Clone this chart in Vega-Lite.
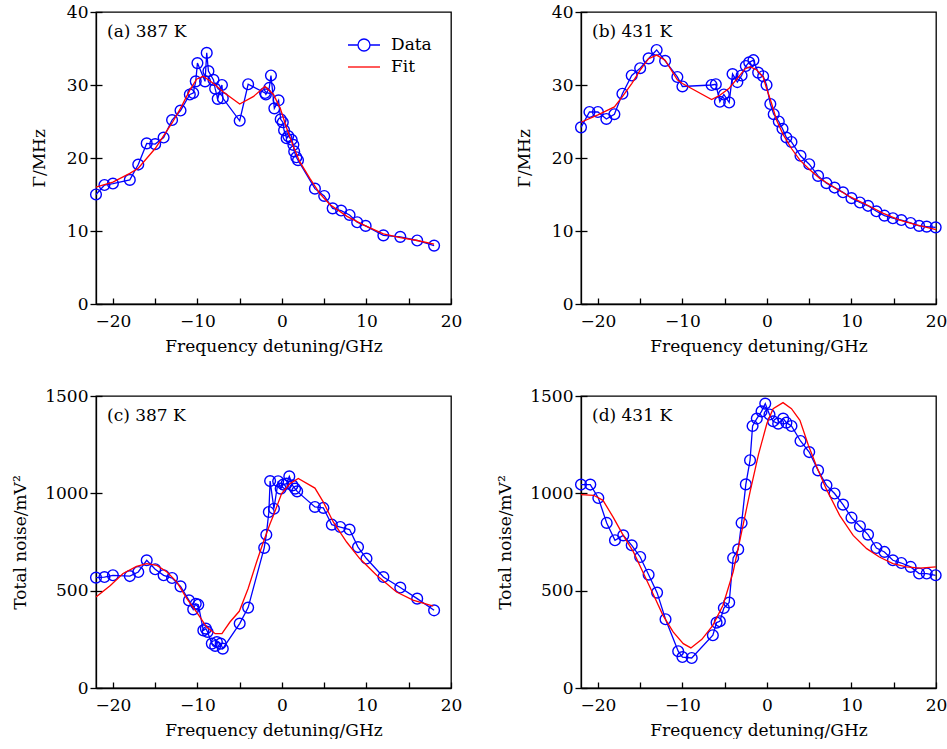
{
  "$schema": "https://vega.github.io/schema/vega-lite/v6.json",
  "background": "white",
  "padding": {"left": 11, "top": 2, "right": 0, "bottom": 0},
  "columns": 2,
  "spacing": {"row": 92, "column": 130},
  "bounds": "flush",
  "datasets": {
    "a": [
      {"series":"Data","x":-22,"y":15.0},{"series":"Data","x":-21,"y":16.3},{"series":"Data","x":-20,"y":16.5},{"series":"Data","x":-18,"y":17.0},{"series":"Data","x":-17,"y":19.1},{"series":"Data","x":-16,"y":22.0},{"series":"Data","x":-15,"y":21.9},{"series":"Data","x":-14,"y":22.8},{"series":"Data","x":-13,"y":25.2},{"series":"Data","x":-12,"y":26.5},{"series":"Data","x":-10.9,"y":28.7},{"series":"Data","x":-10.5,"y":28.9},{"series":"Data","x":-10.2,"y":30.5},{"series":"Data","x":-10.0,"y":33.0},{"series":"Data","x":-9.1,"y":30.5},{"series":"Data","x":-8.9,"y":34.4},{"series":"Data","x":-8.7,"y":31.9},{"series":"Data","x":-8.1,"y":30.7},{"series":"Data","x":-7.9,"y":29.5},{"series":"Data","x":-7.6,"y":28.1},{"series":"Data","x":-7.1,"y":30.0},{"series":"Data","x":-7.0,"y":28.2},{"series":"Data","x":-5.0,"y":25.1},{"series":"Data","x":-4.0,"y":30.1},{"series":"Data","x":-2.0,"y":28.9},{"series":"Data","x":-1.9,"y":28.7},{"series":"Data","x":-1.5,"y":29.6},{"series":"Data","x":-1.3,"y":31.3},{"series":"Data","x":-0.9,"y":26.8},{"series":"Data","x":-0.4,"y":27.9},{"series":"Data","x":-0.15,"y":25.3},{"series":"Data","x":0.1,"y":24.9},{"series":"Data","x":0.25,"y":23.8},{"series":"Data","x":0.55,"y":22.7},{"series":"Data","x":0.75,"y":23.0},{"series":"Data","x":1.15,"y":22.5},{"series":"Data","x":1.35,"y":21.8},{"series":"Data","x":1.45,"y":20.9},{"series":"Data","x":1.7,"y":20.1},{"series":"Data","x":1.9,"y":19.7},{"series":"Data","x":3.9,"y":15.8},{"series":"Data","x":5.0,"y":14.8},{"series":"Data","x":6.0,"y":13.1},{"series":"Data","x":7.0,"y":12.8},{"series":"Data","x":8.0,"y":12.2},{"series":"Data","x":8.9,"y":11.2},{"series":"Data","x":9.9,"y":10.7},{"series":"Data","x":12.0,"y":9.4},{"series":"Data","x":14.0,"y":9.2},{"series":"Data","x":16.0,"y":8.7},{"series":"Data","x":18.0,"y":8.0},
      {"series":"Fit","x":-22,"y":16.0},{"series":"Fit","x":-20,"y":16.7},{"series":"Fit","x":-18,"y":17.9},{"series":"Fit","x":-17,"y":18.6},{"series":"Fit","x":-15,"y":21.3},{"series":"Fit","x":-13,"y":24.8},{"series":"Fit","x":-12,"y":26.8},{"series":"Fit","x":-10.9,"y":29.3},{"series":"Fit","x":-10.1,"y":30.8},{"series":"Fit","x":-9.3,"y":31.2},{"series":"Fit","x":-8.1,"y":30.2},{"series":"Fit","x":-6.9,"y":29.0},{"series":"Fit","x":-5.0,"y":27.4},{"series":"Fit","x":-3.4,"y":28.4},{"series":"Fit","x":-2.0,"y":29.8},{"series":"Fit","x":-1.0,"y":28.7},{"series":"Fit","x":-0.2,"y":26.8},{"series":"Fit","x":0.55,"y":24.1},{"series":"Fit","x":1.34,"y":21.6},{"series":"Fit","x":2.1,"y":19.5},{"series":"Fit","x":3.3,"y":17.2},{"series":"Fit","x":4.5,"y":15.1},{"series":"Fit","x":5.7,"y":13.6},{"series":"Fit","x":7.7,"y":12.0},{"series":"Fit","x":9.7,"y":10.8},{"series":"Fit","x":12.0,"y":9.6},{"series":"Fit","x":14.0,"y":9.1},{"series":"Fit","x":16.0,"y":8.7},{"series":"Fit","x":18.0,"y":8.2}
    ],
    "b": [
      {"series":"Data","x":-22,"y":24.2},{"series":"Data","x":-21,"y":26.3},{"series":"Data","x":-20,"y":26.3},{"series":"Data","x":-19,"y":25.35},{"series":"Data","x":-18.05,"y":26.0},{"series":"Data","x":-17.1,"y":28.8},{"series":"Data","x":-16,"y":31.3},{"series":"Data","x":-15,"y":32.3},{"series":"Data","x":-14,"y":33.65},{"series":"Data","x":-13.05,"y":34.8},{"series":"Data","x":-12.05,"y":33.3},{"series":"Data","x":-10.6,"y":31.1},{"series":"Data","x":-10,"y":29.8},{"series":"Data","x":-6.55,"y":30.0},{"series":"Data","x":-6.05,"y":30.1},{"series":"Data","x":-5.57,"y":27.7},{"series":"Data","x":-5.1,"y":28.7},{"series":"Data","x":-4.47,"y":27.6},{"series":"Data","x":-4.07,"y":31.5},{"series":"Data","x":-3.5,"y":30.4},{"series":"Data","x":-3.0,"y":31.3},{"series":"Data","x":-2.5,"y":32.6},{"series":"Data","x":-2.1,"y":33.1},{"series":"Data","x":-1.6,"y":33.4},{"series":"Data","x":-1.04,"y":31.7},{"series":"Data","x":-0.45,"y":31.2},{"series":"Data","x":-0.05,"y":30.0},{"series":"Data","x":0.4,"y":27.4},{"series":"Data","x":0.8,"y":26.0},{"series":"Data","x":1.4,"y":25.0},{"series":"Data","x":1.84,"y":24.0},{"series":"Data","x":2.3,"y":22.8},{"series":"Data","x":2.9,"y":22.2},{"series":"Data","x":3.97,"y":20.3},{"series":"Data","x":5.0,"y":19.15},{"series":"Data","x":6.05,"y":17.55},{"series":"Data","x":7.04,"y":16.55},{"series":"Data","x":8.0,"y":15.95},{"series":"Data","x":9.0,"y":15.3},{"series":"Data","x":10.0,"y":14.5},{"series":"Data","x":11.0,"y":13.9},{"series":"Data","x":11.96,"y":13.45},{"series":"Data","x":12.95,"y":12.7},{"series":"Data","x":13.9,"y":12.1},{"series":"Data","x":14.9,"y":11.75},{"series":"Data","x":15.9,"y":11.5},{"series":"Data","x":17.0,"y":11.1},{"series":"Data","x":18.0,"y":10.7},{"series":"Data","x":18.9,"y":10.6},{"series":"Data","x":19.96,"y":10.5},
      {"series":"Fit","x":-22,"y":24.9},{"series":"Fit","x":-20,"y":25.9},{"series":"Fit","x":-18.05,"y":27.0},{"series":"Fit","x":-17.1,"y":28.4},{"series":"Fit","x":-16,"y":30.2},{"series":"Fit","x":-15,"y":32.05},{"series":"Fit","x":-14,"y":33.6},{"series":"Fit","x":-13.05,"y":34.1},{"series":"Fit","x":-12.05,"y":33.4},{"series":"Fit","x":-10.6,"y":30.7},{"series":"Fit","x":-10,"y":30.2},{"series":"Fit","x":-6.55,"y":28.0},{"series":"Fit","x":-5.57,"y":28.6},{"series":"Fit","x":-4.47,"y":29.55},{"series":"Fit","x":-3.5,"y":30.9},{"series":"Fit","x":-2.6,"y":32.2},{"series":"Fit","x":-2.0,"y":32.5},{"series":"Fit","x":-1.2,"y":32.05},{"series":"Fit","x":-0.45,"y":31.1},{"series":"Fit","x":-0.05,"y":29.55},{"series":"Fit","x":0.54,"y":27.5},{"series":"Fit","x":1.13,"y":25.2},{"series":"Fit","x":1.92,"y":23.2},{"series":"Fit","x":2.9,"y":21.3},{"series":"Fit","x":3.9,"y":19.7},{"series":"Fit","x":5.07,"y":18.4},{"series":"Fit","x":6.25,"y":17.2},{"series":"Fit","x":7.8,"y":16.1},{"series":"Fit","x":9.8,"y":14.7},{"series":"Fit","x":11.8,"y":13.6},{"series":"Fit","x":13.7,"y":12.45},{"series":"Fit","x":15.7,"y":11.5},{"series":"Fit","x":17.7,"y":10.85},{"series":"Fit","x":20,"y":10.2}
    ],
    "c": [
      {"series":"Data","x":-22,"y":567},{"series":"Data","x":-21,"y":570},{"series":"Data","x":-20,"y":579},{"series":"Data","x":-18,"y":575},{"series":"Data","x":-17,"y":596},{"series":"Data","x":-16,"y":656},{"series":"Data","x":-15,"y":610},{"series":"Data","x":-14,"y":579},{"series":"Data","x":-13,"y":565},{"series":"Data","x":-12,"y":522},{"series":"Data","x":-11,"y":450},{"series":"Data","x":-10.5,"y":404},{"series":"Data","x":-10.2,"y":433},{"series":"Data","x":-9.9,"y":428},{"series":"Data","x":-9.3,"y":296},{"series":"Data","x":-9.0,"y":305},{"series":"Data","x":-8.8,"y":288},{"series":"Data","x":-8.3,"y":228},{"series":"Data","x":-7.9,"y":216},{"series":"Data","x":-7.7,"y":236},{"series":"Data","x":-7.25,"y":228},{"series":"Data","x":-7.0,"y":202},{"series":"Data","x":-5.0,"y":331},{"series":"Data","x":-4.0,"y":413},{"series":"Data","x":-2.1,"y":720},{"series":"Data","x":-1.85,"y":787},{"series":"Data","x":-1.55,"y":904},{"series":"Data","x":-1.4,"y":1063},{"series":"Data","x":-0.95,"y":921},{"series":"Data","x":-0.45,"y":1062},{"series":"Data","x":-0.15,"y":1024},{"series":"Data","x":0.15,"y":1045},{"series":"Data","x":0.55,"y":1050},{"series":"Data","x":0.87,"y":1087},{"series":"Data","x":1.25,"y":1041},{"series":"Data","x":1.55,"y":1024},{"series":"Data","x":1.8,"y":1010},{"series":"Data","x":3.9,"y":930},{"series":"Data","x":4.9,"y":925},{"series":"Data","x":5.9,"y":839},{"series":"Data","x":6.9,"y":827},{"series":"Data","x":8.0,"y":814},{"series":"Data","x":9.0,"y":724},{"series":"Data","x":10.0,"y":665},{"series":"Data","x":12.0,"y":570},{"series":"Data","x":14.0,"y":516},{"series":"Data","x":16.0,"y":459},{"series":"Data","x":18.0,"y":399},
      {"series":"Fit","x":-22,"y":467},{"series":"Fit","x":-20.3,"y":527},{"series":"Fit","x":-18.8,"y":588},{"series":"Fit","x":-17.2,"y":625},{"series":"Fit","x":-16.0,"y":639},{"series":"Fit","x":-14.8,"y":630},{"series":"Fit","x":-13.6,"y":596},{"series":"Fit","x":-12.45,"y":545},{"series":"Fit","x":-11.25,"y":459},{"series":"Fit","x":-10.1,"y":390},{"series":"Fit","x":-8.9,"y":313},{"series":"Fit","x":-7.9,"y":279},{"series":"Fit","x":-7.1,"y":279},{"series":"Fit","x":-6.15,"y":339},{"series":"Fit","x":-5.05,"y":394},{"series":"Fit","x":-4.0,"y":511},{"series":"Fit","x":-3.0,"y":647},{"series":"Fit","x":-2.2,"y":750},{"series":"Fit","x":-1.4,"y":845},{"series":"Fit","x":-1.0,"y":887},{"series":"Fit","x":-0.04,"y":999},{"series":"Fit","x":0.95,"y":1050},{"series":"Fit","x":1.93,"y":1076},{"series":"Fit","x":3.9,"y":1027},{"series":"Fit","x":4.9,"y":955},{"series":"Fit","x":6.07,"y":853},{"series":"Fit","x":7.65,"y":750},{"series":"Fit","x":9.2,"y":665},{"series":"Fit","x":11.2,"y":579},{"series":"Fit","x":13.56,"y":493},{"series":"Fit","x":15.5,"y":451},{"series":"Fit","x":17.9,"y":421}
    ],
    "d": [
      {"series":"Data","x":-22,"y":1045},{"series":"Data","x":-20.9,"y":1045},{"series":"Data","x":-19.95,"y":976},{"series":"Data","x":-18.96,"y":848},{"series":"Data","x":-17.98,"y":759},{"series":"Data","x":-17.0,"y":784},{"series":"Data","x":-16.0,"y":733},{"series":"Data","x":-15.0,"y":673},{"series":"Data","x":-14.0,"y":582},{"series":"Data","x":-13.0,"y":490},{"series":"Data","x":-12.0,"y":353},{"series":"Data","x":-10.5,"y":189},{"series":"Data","x":-10.0,"y":159},{"series":"Data","x":-8.9,"y":154},{"series":"Data","x":-6.4,"y":271},{"series":"Data","x":-5.96,"y":336},{"series":"Data","x":-5.57,"y":343},{"series":"Data","x":-5.1,"y":411},{"series":"Data","x":-4.47,"y":439},{"series":"Data","x":-4.0,"y":668},{"series":"Data","x":-3.4,"y":712},{"series":"Data","x":-3.0,"y":848},{"series":"Data","x":-2.5,"y":1046},{"series":"Data","x":-2.0,"y":1170},{"series":"Data","x":-1.7,"y":1346},{"series":"Data","x":-1.2,"y":1384},{"series":"Data","x":-0.64,"y":1421},{"series":"Data","x":-0.2,"y":1461},{"series":"Data","x":0.3,"y":1405},{"series":"Data","x":0.73,"y":1370},{"series":"Data","x":1.33,"y":1358},{"series":"Data","x":1.92,"y":1384},{"series":"Data","x":2.3,"y":1363},{"series":"Data","x":2.9,"y":1346},{"series":"Data","x":3.97,"y":1269},{"series":"Data","x":5.0,"y":1212},{"series":"Data","x":6.05,"y":1118},{"series":"Data","x":7.04,"y":1041},{"series":"Data","x":8.0,"y":999},{"series":"Data","x":9.0,"y":942},{"series":"Data","x":10.0,"y":875},{"series":"Data","x":11.0,"y":831},{"series":"Data","x":11.96,"y":788},{"series":"Data","x":12.95,"y":719},{"series":"Data","x":13.9,"y":699},{"series":"Data","x":14.9,"y":656},{"series":"Data","x":15.9,"y":642},{"series":"Data","x":17.0,"y":622},{"series":"Data","x":18.0,"y":588},{"series":"Data","x":18.9,"y":588},{"series":"Data","x":19.96,"y":579},
      {"series":"Fit","x":-22,"y":993},{"series":"Fit","x":-20.5,"y":990},{"series":"Fit","x":-19.4,"y":964},{"series":"Fit","x":-18.2,"y":878},{"series":"Fit","x":-17.0,"y":784},{"series":"Fit","x":-15.8,"y":699},{"series":"Fit","x":-14.6,"y":588},{"series":"Fit","x":-13.4,"y":476},{"series":"Fit","x":-12.3,"y":373},{"series":"Fit","x":-11.1,"y":288},{"series":"Fit","x":-9.9,"y":228},{"series":"Fit","x":-9.0,"y":206},{"series":"Fit","x":-7.7,"y":250},{"series":"Fit","x":-6.4,"y":322},{"series":"Fit","x":-5.2,"y":425},{"series":"Fit","x":-4.0,"y":596},{"series":"Fit","x":-3.0,"y":801},{"series":"Fit","x":-2.0,"y":1007},{"series":"Fit","x":-1.0,"y":1200},{"series":"Fit","x":0.0,"y":1360},{"series":"Fit","x":0.73,"y":1435},{"series":"Fit","x":1.9,"y":1466},{"series":"Fit","x":2.9,"y":1435},{"series":"Fit","x":3.9,"y":1375},{"series":"Fit","x":4.9,"y":1247},{"series":"Fit","x":5.9,"y":1135},{"series":"Fit","x":7.0,"y":1024},{"series":"Fit","x":8.6,"y":887},{"series":"Fit","x":10.2,"y":784},{"series":"Fit","x":11.8,"y":716},{"series":"Fit","x":13.3,"y":673},{"series":"Fit","x":14.9,"y":639},{"series":"Fit","x":16.5,"y":622},{"series":"Fit","x":18.1,"y":616},{"series":"Fit","x":20,"y":622}
    ]
  },
  "concat": [
    {
      "width": 355, "height": 292,
      "data": {"name": "a"},
      "title": {"text": "(a) 387 K"},
      "encoding": {
        "x": {"field": "x", "type": "quantitative", "scale": {"domain": [-22, 20], "nice": false, "zero": false}, "axis": {"values": [-20, -15, -10, -5, 0, 5, 10, 15, 20], "labelExpr": "datum.value % 10 === 0 ? datum.label : ''", "title": "Frequency detuning/GHz"}},
        "y": {"field": "y", "type": "quantitative", "scale": {"domain": [0, 40], "nice": false, "zero": false}, "axis": {"values": [0, 10, 20, 30, 40], "format": "d", "title": "Γ/MHz", "titlePadding": 18}}
      },
      "layer": [
        {"transform": [{"filter": "datum.series === 'Data'"}], "mark": {"type": "line", "color": "#0000ff", "strokeWidth": 1.3}},
        {"transform": [{"filter": "datum.series === 'Data'"}], "mark": {"type": "point", "shape": "circle", "filled": false, "color": "#0000ff", "size": 115, "strokeWidth": 1.4, "opacity": 1}},
        {"transform": [{"filter": "datum.series === 'Fit'"}], "mark": {"type": "line", "color": "#ff0000", "strokeWidth": 1.3}},
        {"mark": {"type": "point", "filled": false, "opacity": 0},
         "encoding": {
           "color": {"field": "series", "type": "nominal", "scale": {"domain": ["Data", "Fit"], "range": ["#0000ff", "#ff0000"]}, "legend": {"title": null, "orient": "none", "legendX": 257, "legendY": 22}},
           "shape": {"field": "series", "type": "nominal", "scale": {"domain": ["Data", "Fit"], "range": ["M-1.6,0H-0.6M0.6,0H1.6M0.6,0A0.6,0.6,0,1,1,-0.6,0A0.6,0.6,0,1,1,0.6,0", "M-1.6,0H1.6"]}, "legend": {"title": null, "orient": "none", "legendX": 257, "legendY": 22}}
         }}
      ]
    },
    {
      "width": 355, "height": 292,
      "data": {"name": "b"},
      "title": {"text": "(b) 431 K"},
      "encoding": {
        "x": {"field": "x", "type": "quantitative", "scale": {"domain": [-22, 20], "nice": false, "zero": false}, "axis": {"values": [-20, -15, -10, -5, 0, 5, 10, 15, 20], "labelExpr": "datum.value % 10 === 0 ? datum.label : ''", "title": "Frequency detuning/GHz"}},
        "y": {"field": "y", "type": "quantitative", "scale": {"domain": [0, 40], "nice": false, "zero": false}, "axis": {"values": [0, 10, 20, 30, 40], "format": "d", "title": "Γ/MHz", "titlePadding": 18}}
      },
      "layer": [
        {"transform": [{"filter": "datum.series === 'Data'"}], "mark": {"type": "line", "color": "#0000ff", "strokeWidth": 1.3}},
        {"transform": [{"filter": "datum.series === 'Data'"}], "mark": {"type": "point", "shape": "circle", "filled": false, "color": "#0000ff", "size": 115, "strokeWidth": 1.4, "opacity": 1}},
        {"transform": [{"filter": "datum.series === 'Fit'"}], "mark": {"type": "line", "color": "#ff0000", "strokeWidth": 1.3}},
        {"mark": {"type": "point", "filled": false, "opacity": 0},
         "encoding": {
           "color": {"field": "series", "type": "nominal", "scale": {"domain": ["Data", "Fit"], "range": ["#0000ff", "#ff0000"]}, "legend": {"title": null, "orient": "none", "legendX": 257, "legendY": 22}},
           "shape": {"field": "series", "type": "nominal", "scale": {"domain": ["Data", "Fit"], "range": ["M-1.6,0H-0.6M0.6,0H1.6M0.6,0A0.6,0.6,0,1,1,-0.6,0A0.6,0.6,0,1,1,0.6,0", "M-1.6,0H1.6"]}, "legend": {"title": null, "orient": "none", "legendX": 257, "legendY": 22}}
         }}
      ]
    },
    {
      "width": 355, "height": 292,
      "data": {"name": "c"},
      "title": {"text": "(c) 387 K"},
      "encoding": {
        "x": {"field": "x", "type": "quantitative", "scale": {"domain": [-22, 20], "nice": false, "zero": false}, "axis": {"values": [-20, -15, -10, -5, 0, 5, 10, 15, 20], "labelExpr": "datum.value % 10 === 0 ? datum.label : ''", "title": "Frequency detuning/GHz"}},
        "y": {"field": "y", "type": "quantitative", "scale": {"domain": [0, 1500], "nice": false, "zero": false}, "axis": {"values": [0, 500, 1000, 1500], "format": "d", "title": "Total noise/mV²", "titlePadding": 15}}
      },
      "layer": [
        {"transform": [{"filter": "datum.series === 'Data'"}], "mark": {"type": "line", "color": "#0000ff", "strokeWidth": 1.3}},
        {"transform": [{"filter": "datum.series === 'Data'"}], "mark": {"type": "point", "shape": "circle", "filled": false, "color": "#0000ff", "size": 115, "strokeWidth": 1.4, "opacity": 1}},
        {"transform": [{"filter": "datum.series === 'Fit'"}], "mark": {"type": "line", "color": "#ff0000", "strokeWidth": 1.3}},
        {"mark": {"type": "point", "filled": false, "opacity": 0},
         "encoding": {
           "color": {"field": "series", "type": "nominal", "scale": {"domain": ["Data", "Fit"], "range": ["#0000ff", "#ff0000"]}, "legend": {"title": null, "orient": "none", "legendX": 257, "legendY": 22}},
           "shape": {"field": "series", "type": "nominal", "scale": {"domain": ["Data", "Fit"], "range": ["M-1.6,0H-0.6M0.6,0H1.6M0.6,0A0.6,0.6,0,1,1,-0.6,0A0.6,0.6,0,1,1,0.6,0", "M-1.6,0H1.6"]}, "legend": {"title": null, "orient": "none", "legendX": 257, "legendY": 22}}
         }}
      ]
    },
    {
      "width": 355, "height": 292,
      "data": {"name": "d"},
      "title": {"text": "(d) 431 K"},
      "encoding": {
        "x": {"field": "x", "type": "quantitative", "scale": {"domain": [-22, 20], "nice": false, "zero": false}, "axis": {"values": [-20, -15, -10, -5, 0, 5, 10, 15, 20], "labelExpr": "datum.value % 10 === 0 ? datum.label : ''", "title": "Frequency detuning/GHz"}},
        "y": {"field": "y", "type": "quantitative", "scale": {"domain": [0, 1500], "nice": false, "zero": false}, "axis": {"values": [0, 500, 1000, 1500], "format": "d", "title": "Total noise/mV²", "titlePadding": 15}}
      },
      "layer": [
        {"transform": [{"filter": "datum.series === 'Data'"}], "mark": {"type": "line", "color": "#0000ff", "strokeWidth": 1.3}},
        {"transform": [{"filter": "datum.series === 'Data'"}], "mark": {"type": "point", "shape": "circle", "filled": false, "color": "#0000ff", "size": 115, "strokeWidth": 1.4, "opacity": 1}},
        {"transform": [{"filter": "datum.series === 'Fit'"}], "mark": {"type": "line", "color": "#ff0000", "strokeWidth": 1.3}},
        {"mark": {"type": "point", "filled": false, "opacity": 0},
         "encoding": {
           "color": {"field": "series", "type": "nominal", "scale": {"domain": ["Data", "Fit"], "range": ["#0000ff", "#ff0000"]}, "legend": {"title": null, "orient": "none", "legendX": 257, "legendY": 22}},
           "shape": {"field": "series", "type": "nominal", "scale": {"domain": ["Data", "Fit"], "range": ["M-1.6,0H-0.6M0.6,0H1.6M0.6,0A0.6,0.6,0,1,1,-0.6,0A0.6,0.6,0,1,1,0.6,0", "M-1.6,0H1.6"]}, "legend": {"title": null, "orient": "none", "legendX": 257, "legendY": 22}}
         }}
      ]
    }
  ],
  "config": {
    "font": "DejaVu Serif",
    "view": {"stroke": "#000000", "strokeWidth": 1.3},
    "axis": {
      "labelFont": "DejaVu Serif", "labelFontSize": 17, "labelColor": "#000000",
      "titleFont": "DejaVu Serif", "titleFontSize": 17, "titleFontWeight": "normal", "titleColor": "#000000",
      "domainColor": "#000000", "domainWidth": 1.3,
      "tickColor": "#000000", "tickWidth": 1.3,
      "grid": true, "gridColor": "#000000", "gridWidth": 1.3, "gridOpacity": 1,
      "labelFlush": false, "labelOverlap": false
    },
    "axisX": {"ticks": false, "labelPadding": 9, "titlePadding": 9, "gridDash": [6, 286], "gridDashOffset": 6},
    "axisY": {"ticks": true, "tickSize": 6, "labelPadding": 2, "gridDash": [6, 2000]},
    "legend": {
      "labelFont": "DejaVu Serif", "labelFontSize": 17, "labelColor": "#000000",
      "symbolSize": 400, "symbolStrokeWidth": 1.3, "symbolOpacity": 1, "symbolFillColor": "transparent",
      "labelOffset": 16, "rowPadding": 2, "padding": 0
    },
    "title": {
      "font": "DejaVu Serif", "fontSize": 17, "fontWeight": "normal", "color": "#000000",
      "anchor": "start", "frame": "group", "orient": "top", "offset": -38, "dx": 11, "baseline": "alphabetic"
    }
  }
}
